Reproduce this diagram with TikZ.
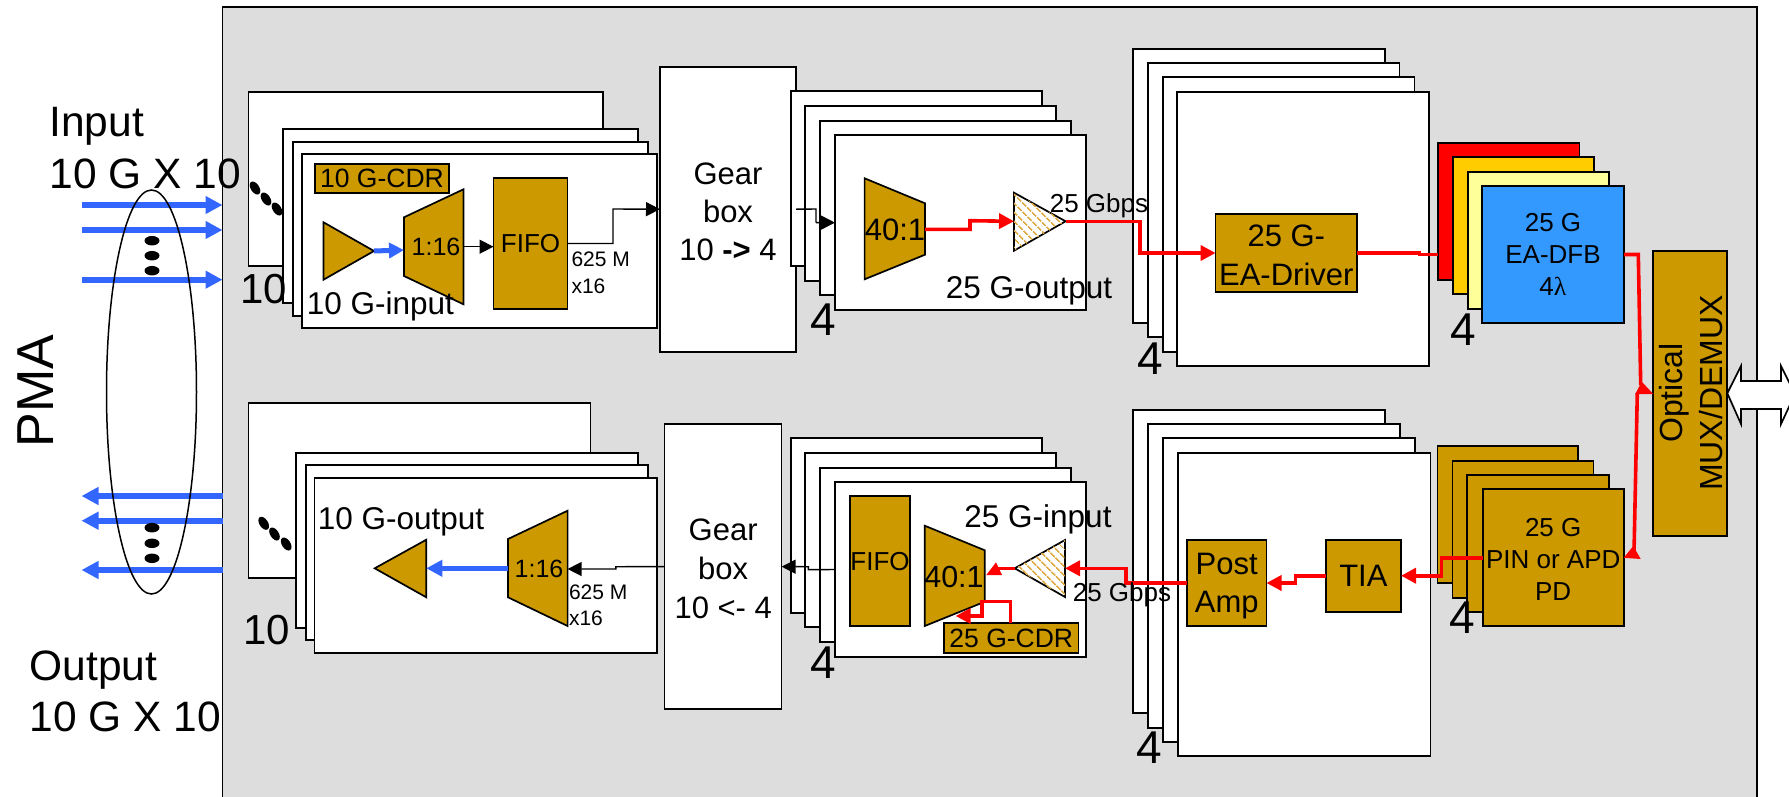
\documentclass[tikz,border=0pt]{standalone}
\usepackage{fontspec}
\setmainfont{Liberation Sans}
\newfontfamily\lamfont{Liberation Serif}
\usetikzlibrary{arrows.meta,shapes.geometric,patterns.meta}
\definecolor{gold}{HTML}{CC9900}
\definecolor{panelgray}{HTML}{DDDDDD}
\definecolor{sigblue}{HTML}{3366FF}
\definecolor{laserblue}{HTML}{3399FF}
\definecolor{laserorange}{HTML}{FFCC00}
\definecolor{laseryellow}{HTML}{FFFF99}
\definecolor{hatchtan}{HTML}{DDAA44}
\newcommand{\fs}[1]{\fontsize{#1}{#1}\selectfont}
\newcommand{\bx}[7]{\node[#1,minimum width={#5-#3},minimum height={#6-#4},inner sep=0pt,outer sep=0pt,align=center] (#2) at ({(#3+#5)/2},{(#4+#6)/2}) {#7};}
\tikzset{
  cardbox/.style={draw=black,line width=1.7pt,fill=white},
  goldbox/.style={draw=black,line width=1.7pt,fill=gold},
  goldshape/.style={draw=black,line width=1.7pt,fill=gold,line join=miter},
  hatchshape/.style={draw=black,line width=1.7pt,fill=white,postaction={pattern={Lines[angle=-45,distance=6.5pt,line width=1.8pt]},pattern color=hatchtan}},
  txt/.style={inner sep=0pt,outer sep=0pt,text=black},
  redline/.style={draw=red,line width=3.6pt,line join=miter},
  redarrow/.style={redline,-{Triangle[length=15pt,width=15pt]}},
  blackarrow/.style={draw=black,line width=1.4pt,-{Triangle[length=14pt,width=14pt]}},
  bluearrow/.style={draw=sigblue,line width=5.6pt,-{Triangle[length=17pt,width=17pt]}},
  dotv/.style={ellipse,fill=black,minimum width=15pt,minimum height=9.5pt,inner sep=0pt},
  dott/.style={ellipse,fill=black,minimum width=8.5pt,minimum height=14.5pt,inner sep=0pt,rotate=33},
}
\begin{document}
\begin{tikzpicture}[x=1pt,y=-1pt]
\useasboundingbox (0,0) rectangle (1789,796);
\clip (0,0) rectangle (1789,796);
\fill[white] (0,0) rectangle (1789,796);
% panel
\bx{cardbox,fill=panelgray}{panel}{222.5}{7}{1757}{815}{}
% left cards top
\bx{cardbox}{ic1}{248.5}{91.7}{603}{266}{}
\bx{cardbox}{ic2}{283}{129.3}{638}{303.3}{}
\bx{cardbox}{ic3}{293}{141.7}{648}{316}{}
\bx{cardbox}{ic4}{302}{154.3}{657}{328}{}
% left cards bottom
\bx{cardbox}{oc1}{248.5}{403}{590.6}{578}{}
\bx{cardbox}{oc2}{296}{452.7}{638}{627.7}{}
\bx{cardbox}{oc3}{305.7}{465.3}{648}{640}{}
\bx{cardbox}{oc4}{314.4}{478}{657}{652.7}{}
% gearboxes
\bx{cardbox}{gearT}{660}{66.7}{796}{351.7}{}
\bx{cardbox}{gearB}{664.5}{424}{781.6}{709.3}{}
\node[txt,align=center,font=\fontsize{31}{38}\selectfont] (gearTl) at (728,212) {Gear\\box\\10 {\bfseries ->} 4};
\node[txt,align=center,font=\fontsize{31}{38.7}\selectfont] (gearBl) at (723.2,569) {Gear\\box\\10 <- 4};
% middle cards top
\bx{cardbox}{mt1}{791}{91.3}{1042}{266}{}
\bx{cardbox}{mt2}{805}{106}{1056}{280.7}{}
\bx{cardbox}{mt3}{820}{120.7}{1071}{295.3}{}
\bx{cardbox}{mt4}{835}{135.3}{1086}{310}{}
% middle cards bottom
\bx{cardbox}{mb1}{791}{438.3}{1042}{612.7}{}
\bx{cardbox}{mb2}{805}{453}{1056}{627.3}{}
\bx{cardbox}{mb3}{820}{467.7}{1071}{642}{}
\bx{cardbox}{mb4}{835}{482.3}{1086}{656.7}{}
% right cards top
\bx{cardbox}{rt1}{1133}{49}{1385}{323.3}{}
\bx{cardbox}{rt2}{1148}{63}{1399.6}{337}{}
\bx{cardbox}{rt3}{1163}{77.3}{1414.5}{351.7}{}
\bx{cardbox}{rt4}{1177}{91.7}{1429}{366}{}
% right cards bottom
\bx{cardbox}{rb1}{1133}{410}{1384.7}{713.3}{}
\bx{cardbox}{rb2}{1148}{424}{1400}{727.7}{}
\bx{cardbox}{rb3}{1163}{438.3}{1415}{742}{}
\bx{cardbox}{rb4}{1177.7}{452.7}{1430.4}{756.3}{}
% laser stack
\bx{cardbox,fill=red}{las1}{1438}{143}{1579.6}{280}{}
\bx{cardbox,fill=laserorange}{las2}{1453}{157.3}{1594}{294.3}{}
\bx{cardbox,fill=laseryellow}{las3}{1468}{171.7}{1609}{308.7}{}
\bx{cardbox,fill=laserblue,font=\fontsize{26}{32}\selectfont}{las4}{1482}{186}{1624}{323}{25 G\\EA-DFB\\4{\lamfont λ}}
% PD stack
\bx{goldbox}{pd1}{1437.4}{446.3}{1578}{583.3}{}
\bx{goldbox}{pd2}{1452.4}{461}{1593.4}{597.7}{}
\bx{goldbox}{pd3}{1467.3}{475.3}{1608.8}{612}{}
\bx{goldbox}{pd4}{1482.7}{489.3}{1623.7}{626.3}{}
\node[txt,align=center,font=\fontsize{26}{32}\selectfont] (pd4l) at (1553.2,559.5) {25 G\\PIN or APD\\PD};
% gold boxes
\bx{goldbox}{cdrT}{315}{163.7}{449}{193}{\fs{26.5}10 G-CDR}
\bx{goldbox}{fifoT}{493.5}{178}{567.6}{309}{\fs{26}FIFO}
\bx{goldbox}{fifoB}{850}{496.3}{910}{626.3}{\fs{26}FIFO}
\bx{goldbox}{cdrB}{944}{623.3}{1078.6}{653}{\fs{26.5}25 G-CDR}
\bx{goldbox}{driver}{1215.6}{214.3}{1357}{291.7}{}
\node[txt,align=center,font=\fontsize{31}{39}\selectfont] (driverl) at (1286.3,255) {25 G-\\EA-Driver};
\bx{goldbox}{postamp}{1187}{539.7}{1266.5}{626.3}{}
\node[txt,align=center,font=\fontsize{31}{38}\selectfont] (postampl) at (1226.7,586.5) {Post\\Amp};
\bx{goldbox}{tia}{1325.8}{539.7}{1401}{611.7}{\fs{31}TIA}
\bx{goldbox}{mux}{1653.3}{250.7}{1727.3}{535.7}{}
\node[txt,rotate=90,align=center,font=\fontsize{32}{40}\selectfont] (muxlabel) at (1691,393) {Optical\\MUX/DEMUX};
% amplifiers and mux shapes
\coordinate (ampTa) at (323.5,222.3);
\coordinate (ampTb) at (323.5,279.7);
\coordinate (ampTtip) at (374,251);
\draw[goldshape] (ampTa) -- (ampTtip) -- (ampTb) -- cycle;
\coordinate (demTin) at (404,250);
\coordinate (demTout) at (463.5,246.7);
\draw[goldshape] (404,217.3) -- (463.5,189.3) -- (463.5,304.3) -- (404,276) -- cycle;
\coordinate (muxTin) at (864.6,229.3);
\coordinate (muxTout) at (925,229.3);
\draw[goldshape] (864.6,178.3) -- (925,203.3) -- (925,254.7) -- (864.6,279.3) -- cycle;
\coordinate (hatTin) at (1014,221.3);
\coordinate (hatTtip) at (1065.6,221.3);
\draw[hatchshape] (1014,192.7) -- (hatTtip) -- (1014,250.7) -- cycle;
\coordinate (ampBtip) at (374.7,568.3);
\coordinate (ampBin) at (426.3,568.3);
\draw[goldshape] (ampBtip) -- (426.3,539.7) -- (426.3,597.3) -- cycle;
\coordinate (remBl) at (508,568.3);
\coordinate (remBr) at (567.6,569);
\draw[goldshape] (508,539) -- (567.6,510.7) -- (567.6,626) -- (508,597.3) -- cycle;
\coordinate (demBr) at (985,575);
\coordinate (demBlow) at (955.7,616);
\draw[goldshape] (924.7,525.7) -- (984.8,550.3) -- (984.8,601.7) -- (924.7,626) -- cycle;
\coordinate (hatBtip) at (1014.7,568.3);
\coordinate (hatBin) at (1065,568.3);
\draw[hatchshape] (hatBtip) -- (1065,540) -- (1065,597) -- cycle;
% black connectors
\draw[blackarrow] (demTout) -- (fifoT.west |- demTout);
\draw[blackarrow] (fifoT.east) -- (613,243.5) -- (613,209) -- (gearT.west);
\draw[black,line width=1.4pt] (gearT.east) -- (816,209) -- (816,222.6);
\draw[blackarrow] (816,222.6) -- (mt4.west);
\draw[blackarrow] (mb4.west) -- (808.4,569.7) -- (808.4,566.7) -- (gearB.east);
\draw[blackarrow] (gearB.west) -- (615.8,566.7) -- (615.8,569) -- (remBr);
% blue connectors
\draw[draw=sigblue,line width=5pt,-{Triangle[length=15pt,width=15pt]}] (ampTtip) -- (demTin);
\draw[bluearrow,-{Triangle[length=16pt,width=16pt]}] (remBl) -- (ampBin);
% red connectors
\draw[redarrow] (muxTout) -- (970,229.3) -- (970,220.7) -- (hatTin);
\draw[redarrow] (hatTtip) -- (1140,221.3) -- (1140,253) -- (driver.west);
\coordinate (las1in) at (1438,254.5);
\draw[redline] (driver.east) -- (1419.6,253) -- (1419.6,254.5) -- (las1in);
\coordinate (muxin) at (1653.3,394);
\draw[redline] (las4.east) -- (1638.3,254.5) -- (1640.7,385);
\fill[red] (muxin) -- (1635.3,394) -- (1641.7,381.7) -- cycle;
\draw[redline] (1637.3,393) -- (1634,553);
\fill[red] (pd4.east) -- (1640.7,559) -- (1633.3,546) -- cycle;
\draw[redarrow] (pd4.west) -- (1441.4,557.8) -- (1441.4,575.7) -- (tia.east);
\draw[redarrow] (tia.west) -- (1295.5,575.7) -- (1295.5,583) -- (postamp.east);
\draw[redarrow] (postamp.west) -- (1126,583) -- (1126,568.3) -- (hatBin);
\draw[redline] (hatBtip) -- (998,568.3);
\fill[red] (986.3,575) -- (996,562.3) -- (1002,575) -- cycle;
\draw[redarrow] (cdrB.north -| 1010.5,0) -- (1010.5,601.3) -- (981.7,601.3) -- (981.7,616) -- (demBlow);
% optical double arrow
\draw[draw=black,line width=1.7pt,fill=white] (mux.east) -- (1741,366) -- (1741,381) -- (1781,381) -- (1781,366) -- (1795,394) -- (1781,424) -- (1781,409) -- (1741,409) -- (1741,424) -- cycle;
% input and output arrows
\coordinate (ia1) at (81.5,205); \coordinate (ia2) at (81.5,230); \coordinate (ia3) at (81.5,279.7);
\coordinate (oa1) at (81.5,496); \coordinate (oa2) at (81.5,520.7); \coordinate (oa3) at (81.5,570);
\draw[bluearrow] (ia1) -- (panel.west |- ia1);
\draw[bluearrow] (ia2) -- (panel.west |- ia2);
\draw[bluearrow] (ia3) -- (panel.west |- ia3);
\draw[bluearrow] (panel.west |- oa1) -- (oa1);
\draw[bluearrow] (panel.west |- oa2) -- (oa2);
\draw[bluearrow] (panel.west |- oa3) -- (oa3);
\node[ellipse,draw=black,line width=1.5pt,minimum width=90pt,minimum height=404pt,inner sep=0pt] (bundle) at (151.5,392) {};
% dots
\node[dotv] (dv1) at (152,240.7) {}; \node[dotv] (dv2) at (152,255.7) {}; \node[dotv] (dv3) at (152,270.7) {};
\node[dotv] (dv4) at (152,527.7) {}; \node[dotv] (dv5) at (152,543.3) {}; \node[dotv] (dv6) at (152,558.3) {};
\node[dott] (dt1) at (255,188) {}; \node[dott] (dt2) at (266,199) {}; \node[dott] (dt3) at (277,209) {};
\node[dott] (dt4) at (263.7,523.3) {}; \node[dott] (dt5) at (274.5,534) {}; \node[dott] (dt6) at (286.2,544) {};
% texts
\node[txt,anchor=base west,align=left,font=\fontsize{42.5}{52}\selectfont] (lblin) at (49.5,188) {Input\\10 G X 10};
\node[txt,anchor=base west,align=left,font=\fontsize{42.5}{51}\selectfont] (lblout) at (29.5,731.7) {Output\\10 G X 10};
\node[txt,rotate=90,font=\fs{52}] (pma) at (36,391) {PMA};
\node[txt,anchor=base west,font=\fs{42}] (n10a) at (240,303) {10};
\node[txt,anchor=base west,font=\fs{42}] (n10b) at (243.5,644) {10};
\node[txt,font=\fs{46}] (n4a) at (823.7,319.3) {4};
\node[txt,font=\fs{46}] (n4b) at (823.7,662.3) {4};
\node[txt,font=\fs{46}] (n4c) at (1150,358.3) {4};
\node[txt,font=\fs{46}] (n4d) at (1149.6,747.3) {4};
\node[txt,font=\fs{46}] (n4e) at (1463,329.3) {4};
\node[txt,font=\fs{46}] (n4f) at (1462.5,618) {4};
\node[txt,font=\fs{25}] (d116a) at (436,247) {1:16};
\node[txt,font=\fs{25}] (d116b) at (539,569) {1:16};
\node[txt,font=\fs{31}] (m40a) at (895,230) {40:1};
\node[txt,font=\fs{30.5}] (m40b) at (954,577.3) {40:1};
\node[txt,font=\fs{31.5}] (l10in) at (380.5,306) {10 G-input};
\node[txt,font=\fs{31.5}] (l10out) at (401,521.7) {10 G-output};
\node[txt,font=\fs{31.5}] (l25out) at (1029,290.7) {25 G-output};
\node[txt,font=\fs{31.5}] (l25in) at (1038,519.3) {25 G-input};
\node[txt,font=\fs{26}] (g25a) at (1099,205.7) {25 Gbps};
\node[txt,font=\fs{26}] (g25b) at (1122,595) {25 Gbps};
\node[txt,anchor=west,align=left,font=\fontsize{21}{26.7}\selectfont] (r625a) at (571.5,273) {625 M\\x16};
\node[txt,anchor=west,align=left,font=\fontsize{21}{26.3}\selectfont] (r625b) at (569,605) {625 M\\x16};
\end{tikzpicture}
\end{document}
